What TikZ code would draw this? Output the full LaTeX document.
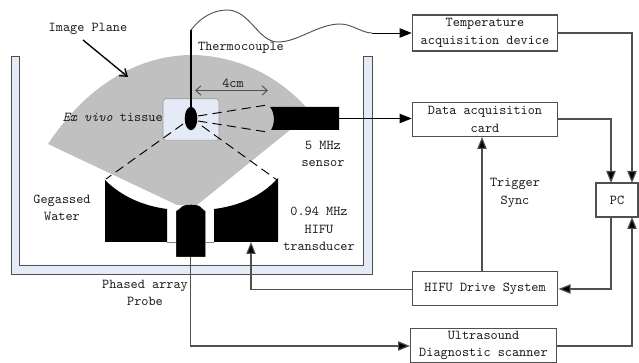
\documentclass[tikz,border=0pt]{standalone}
\usepackage{fontspec}
\usetikzlibrary{arrows.meta}
\definecolor{tankblue}{HTML}{E4EAF6}
\definecolor{sectorgray}{HTML}{C0C0C0}
\definecolor{linegray}{HTML}{505050}
\tikzset{
  x=0.75pt,y=-0.75pt,
  every node/.style={font=\ttfamily\fontsize{10.2}{13}\selectfont,text=black!90,inner sep=0pt,align=center},
  box/.style={draw=linegray,line width=0.9pt,fill=white},
  conn/.style={draw=linegray,line width=0.85pt},
  tip/.style={-{Triangle[length=9pt,width=7pt,fill=black]}},
  opentip/.style={-{Straight Barb[length=5pt,width=7pt]}},
}
\begin{document}
\begin{tikzpicture}
\useasboundingbox (0,0) rectangle (639,363);
% tank
\fill[tankblue,draw=linegray,line width=0.7pt] (11,56) -- (19,56) -- (19,265) -- (363,265) -- (363,56) -- (372,56) -- (372,274) -- (11,274) -- cycle;
% image plane sector
\fill[sectorgray] (48,144) .. controls (85,88) and (135,56) .. (190,55) .. controls (235,55) and (280,75) .. (311,113) -- (197,205) -- (177,205) -- cycle;
% tissue
\node[draw=black!40,fill=tankblue,rounded corners=2pt,minimum width=42pt,minimum height=31pt,line width=0.5pt] (tissue) at (191,119.5) {};
\fill[black] (191,118.5) ellipse [x radius=6.3,y radius=11.7];
% transducer
\fill[black] (105,180) .. controls (122,197) and (144,206) .. (167,209) -- (167,242) -- (105,242) -- cycle;
\fill[black] (278,178) .. controls (261,197) and (238,206) .. (214,209) -- (214,242) -- (278,242) -- cycle;
\draw[black!50,line width=0.4pt] (167,242) -- (214,242);
% probe
\fill[black,draw=white!85!yellow,line width=0.3pt] (176,257) -- (176,211) -- (180,208) .. controls (183,203) and (199,203) .. (202,208) -- (205.5,211) -- (205.5,257) -- cycle;
% sensor
\fill[black] (270,107) -- (339,107) -- (339,130) -- (271,130) .. controls (275,124) and (275,113) .. (270,107) -- cycle;
% focal dashes
\coordinate (fa) at (198,116); \coordinate (fb) at (198,121);
\draw[dashed,line width=0.7pt,dash pattern=on 7pt off 4pt] (fa) -- (267,105);
\draw[dashed,line width=0.7pt,dash pattern=on 7pt off 4pt] (fb) -- (267,132);
\draw[dashed,line width=0.7pt,dash pattern=on 7pt off 4pt] (202,126) -- (277,180);
\draw[dashed,line width=0.7pt,dash pattern=on 7pt off 4pt] (183,124) -- (106,179);
% labels
\node at (88,29) {Image Plane};
\coordinate (ipa) at (83,40); \coordinate (ipb) at (128,77);
\draw[opentip,line width=1pt,black] (ipa) -- (ipb);
\node at (241,48) {Thermocouple};
\node at (233,83) {4cm};
\coordinate (da) at (195,90.5); \coordinate (db) at (268,90.5);
\draw[{Straight Barb[length=4pt,width=7pt]}-{Straight Barb[length=4pt,width=7pt]},draw=linegray,line width=0.7pt] (da) -- (db);
\node[anchor=east] at (163,117) {\textit{Ex vivo} tissue};
\node at (323,154) {5 MHz\\sensor};
\node at (62,207.5) {Gegassed\\Water};
\node at (145,293) {Phased array\\Probe};
\node at (319,229) {0.94 MHz\\HIFU\\transducer};
\node at (515,193) {Trigger\\Sync};
% boxes
\node[box,minimum width=109pt,minimum height=27pt] (temp) at (485,33) {Temperature\\acquisition device};
\node[box,minimum width=109pt,minimum height=26pt] (data) at (485,119.5) {Data acquisition\\card};
\node[box,minimum width=109pt,minimum height=26pt] (hifu) at (485,288.5) {HIFU Drive System};
\node[box,minimum width=110pt,minimum height=25pt] (us) at (483.5,345.5) {Ultrasound\\Diagnostic scanner};
\node[box,minimum width=31.5pt,minimum height=25.5pt] (pc) at (617,200) {PC};
% connectors
\coordinate (tc) at (191,107);
\draw[black,line width=1pt] (tc) -- (191,30);
\draw[linegray,line width=0.7pt] (191,30) .. controls (200,18) and (213,10) .. (227,10) .. controls (250,10) and (258,42) .. (278,42) .. controls (298,42) and (318,24) .. (340,24) .. controls (352,24) and (362,33) .. (372,33);
\draw[tip,black,line width=0.7pt] (372,33) -- (temp.west);
\draw[tip,black,line width=0.7pt] (339,118.5) -- (data.west |- 0,118.5);
\draw[tip,conn] (temp.east) -- (632,33) -- (632,183);
\draw[tip,conn] (558,119) -- (611,119) -- (611,183);
\draw[tip,conn] (611,217) -- (611,289) -- (558.5,289);
\draw[tip,conn] (557,346) -- (632,346) -- (632,217);
\draw[tip,conn] (482,271) -- (482,137);
\draw[tip,conn] (412,289.5) -- (251,289.5) -- (251,242);
\draw[tip,conn] (190.5,257) -- (190.5,346) -- (410,346);
\end{tikzpicture}
\end{document}
